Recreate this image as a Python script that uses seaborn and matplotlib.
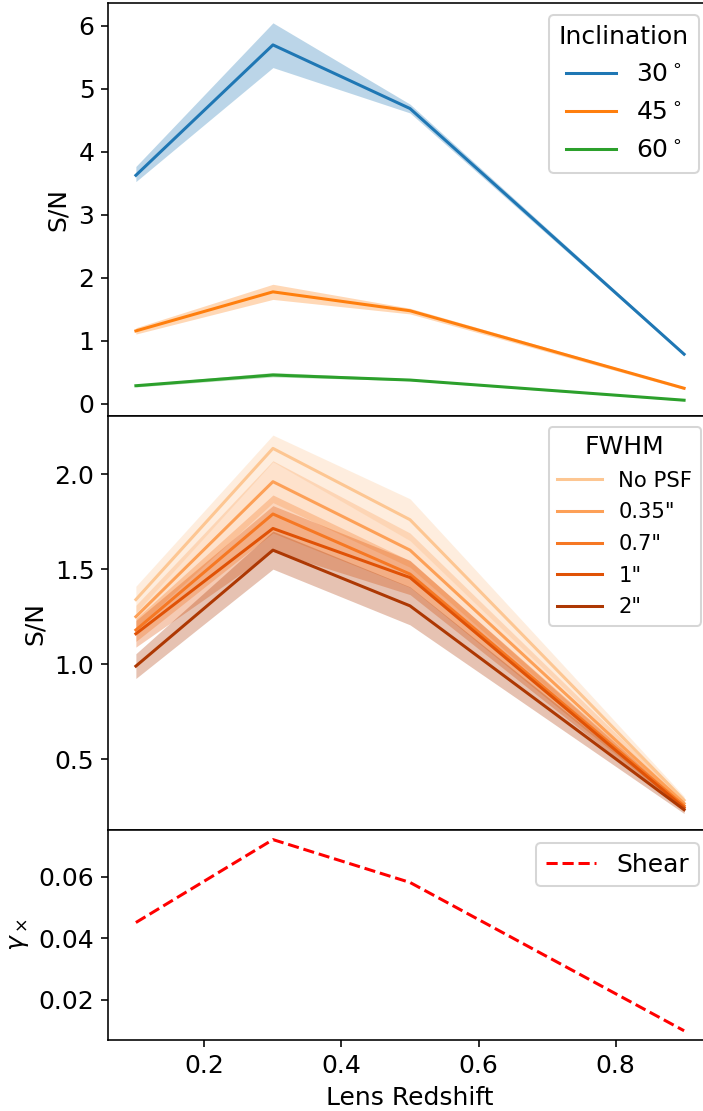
import matplotlib
matplotlib.use("Agg")
import matplotlib.pyplot as plt
import numpy as np
import pandas as pd
import seaborn as sns

# ---- data -------------------------------------------------------------
redshift = [0.1, 0.3, 0.5, 0.9]

incl_labels = [r"30$^\circ$", r"45$^\circ$", r"60$^\circ$"]
incl_sn = [
    [3.63, 5.70, 4.69, 0.79],
    [1.16, 1.78, 1.48, 0.25],
    [0.29, 0.46, 0.38, 0.06],
]
incl_lo = [
    [3.53, 5.34, 4.62, 0.77],
    [1.11, 1.66, 1.43, 0.23],
    [0.27, 0.43, 0.37, 0.05],
]
incl_hi = [
    [3.77, 6.05, 4.76, 0.81],
    [1.21, 1.90, 1.52, 0.27],
    [0.31, 0.50, 0.40, 0.07],
]

fwhm_labels = ["No PSF", '0.35"', '0.7"', '1"', '2"']
fwhm_sn = [
    [1.34, 2.135, 1.76, 0.285],
    [1.25, 1.96, 1.60, 0.268],
    [1.18, 1.79, 1.474, 0.255],
    [1.16, 1.714, 1.456, 0.245],
    [0.99, 1.60, 1.307, 0.235],
]
fwhm_err = [
    [0.07, 0.07, 0.11, 0.02],
    [0.06, 0.11, 0.09, 0.02],
    [0.06, 0.10, 0.07, 0.02],
    [0.07, 0.12, 0.09, 0.02],
    [0.065, 0.10, 0.10, 0.02],
]

shear = [0.0451, 0.0720, 0.0581, 0.0100]

# ---- style ------------------------------------------------------------
FS = 12.4
plt.rcParams.update({
    "font.family": ["DejaVu Sans"],
    "font.size": FS,
    "axes.linewidth": 0.8,
    "lines.linewidth": 1.5,
})

incl_colors = ["#1f77b4", "#ff7f0e", "#2ca02c"]
fwhm_colors = sns.color_palette("Oranges", 6)[1:]

fig = plt.figure(figsize=(703 / 145, 1111 / 145), dpi=145)
left, width = 0.1543, 0.8578
ax1 = fig.add_axes([left, 0.6256, width, 0.3717])
ax2 = fig.add_axes([left, 0.2529, width, 0.3726], sharex=ax1)
ax3 = fig.add_axes([left, 0.0639, width, 0.1890], sharex=ax1)

# ---- inclination panel ------------------------------------------------
df_incl = pd.DataFrame({
    "z": np.tile(redshift, len(incl_labels)),
    "sn": np.concatenate(incl_sn),
    "Inclination": np.repeat(incl_labels, len(redshift)),
})
sns.lineplot(data=df_incl, x="z", y="sn", hue="Inclination",
             hue_order=incl_labels, palette=incl_colors, ax=ax1, zorder=3)
for c, lo, hi in zip(incl_colors, incl_lo, incl_hi):
    ax1.fill_between(redshift, lo, hi, color=c, alpha=0.3, lw=0, zorder=1)
h, l = ax1.get_legend_handles_labels()
ax1.legend(h, l, title="Inclination", loc="upper right",
           title_fontsize=FS, labelspacing=0.55)
ax1.set_ylim(-0.19, 6.365)
ax1.set_ylabel("S/N")

# ---- FWHM panel -------------------------------------------------------
df_fwhm = pd.DataFrame({
    "z": np.tile(redshift, len(fwhm_labels)),
    "sn": np.concatenate(fwhm_sn),
    "FWHM": np.repeat(fwhm_labels, len(redshift)),
})
sns.lineplot(data=df_fwhm, x="z", y="sn", hue="FWHM",
             hue_order=fwhm_labels, palette=fwhm_colors, ax=ax2, zorder=3)
for c, v, e in zip(fwhm_colors, fwhm_sn, fwhm_err):
    v, e = np.asarray(v), np.asarray(e)
    ax2.fill_between(redshift, v - e, v + e, color=c, alpha=0.3, lw=0,
                     zorder=1)
h, l = ax2.get_legend_handles_labels()
ax2.legend(h, l, title="FWHM", loc="upper right", fontsize=10.5,
           title_fontsize=FS, labelspacing=0.55, handlelength=2.1)
ax2.set_ylim(0.128, 2.305)
ax2.set_yticks([0.5, 1.0, 1.5, 2.0])
ax2.set_ylabel("S/N")

# ---- shear panel ------------------------------------------------------
df_shear = pd.DataFrame({"z": redshift, "g": shear})
sns.lineplot(data=df_shear, x="z", y="g", color="red", ls="--",
             label="Shear", ax=ax3)
ax3.legend(loc="upper right")
ax3.set_ylim(0.007, 0.0751)
ax3.set_yticks([0.02, 0.04, 0.06])
ax3.set_ylabel(r"$\gamma_\times$")
ax3.set_xlabel("Lens Redshift")

ax1.set_xlim(0.06, 0.94)
ax3.set_xticks([0.2, 0.4, 0.6, 0.8])
for ax in (ax1, ax2):
    ax.tick_params(axis="x", length=0, labelbottom=False)
    ax.set_xlabel("")

fig.savefig("out.png", dpi=145)
